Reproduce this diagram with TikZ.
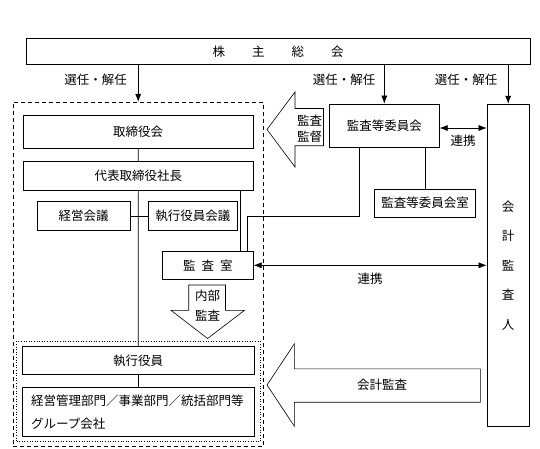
\documentclass[tikz,border=0pt]{standalone}
\usepackage{fontspec}
\setmainfont{Noto Sans CJK JP}
\usetikzlibrary{arrows.meta}
\begin{document}
\begin{tikzpicture}[x=1pt,y=-1pt,
  txt/.style={font=\fontsize{12.5}{15}\selectfont},
  bx/.style={draw, line width=0.6pt, inner sep=0pt, txt},
  ln/.style={line width=0.6pt},
  arr/.style={ln, -{Latex[length=8pt,width=6pt]}},
  darr/.style={ln, {Latex[length=8pt,width=6pt]}-{Latex[length=8pt,width=6pt]}},
  lbl/.style={inner sep=0pt, txt},
  blk/.style={draw, line width=0.6pt, fill=white}]
\useasboundingbox (0,0) rectangle (540,448);
% group frames
\node[draw, dashed, dash pattern=on 4pt off 3pt, line width=0.9pt, minimum width=250.4pt, minimum height=344.5pt, inner sep=0pt] (grp) at (138.2,274.5) {};
\node[draw, dotted, line width=0.6pt, minimum width=243.5pt, minimum height=100.5pt, inner sep=0pt] (exe) at (138.25,391.5) {};
% boxes
\node[bx, minimum width=504pt, minimum height=26pt] (shm) at (278,51.5) {株\hspace{27pt}主\hspace{27pt}総\hspace{27pt}会};
\node[bx, minimum width=229.6pt, minimum height=33pt] (tori) at (138.2,131.9) {取締役会};
\node[bx, minimum width=230pt, minimum height=28.3pt] (daihyo) at (138.3,175.8) {代表取締役社長};
\node[bx, minimum width=92.7pt, minimum height=28.3pt] (keiei) at (83.7,215.8) {経営会議};
\node[bx, minimum width=89pt, minimum height=28.3pt] (skaigi) at (192.8,215.8) {執行役員会議};
\node[bx, minimum width=91pt, minimum height=27.3pt] (ksitsu) at (207.8,265.3) {監\hspace{6pt}査\hspace{6pt}室};
\node[bx, minimum width=110pt, minimum height=43.3pt] (kiin) at (384.3,125.6) {監査等委員会};
\node[bx, minimum width=101.4pt, minimum height=28.3pt] (kiinsitsu) at (425,203.2) {監査等委員会室};
\node[bx, minimum width=42.5pt, minimum height=322.3pt, align=center, font=\fontsize{12.5}{29.5}\selectfont] (kaikei) at (508.2,265.2) {会\\計\\監\\査\\人};
\node[bx, minimum width=231.6pt, minimum height=28.7pt] (syakuin) at (138.2,360.4) {執行役員};
\node[bx, minimum width=231.6pt, minimum height=48.9pt, text width=214pt, align=left, font=\fontsize{12.5}{22.6}\selectfont] (bumon) at (138.2,412.2) {経営管理部門／事業部門／統括部門等\\グループ会社};
% election arrows
\draw[arr] (shm.south -| tori) -- (grp.north -| tori);
\draw[arr] (shm.south -| kiin) -- (kiin.north);
\draw[arr] (shm.south -| kaikei) -- (kaikei.north);
\node[lbl] (l1) at (95.5,80) {選任・解任};
\node[lbl] (l2) at (344,80) {選任・解任};
\node[lbl] (l3) at (466,80) {選任・解任};
% cooperation arrows
\draw[darr] ([yshift=-2.4pt]kiin.east) -- ([yshift=-2.4pt]kiin.east -| kaikei.west);
\node[lbl] (r1) at (463,140.7) {連携};
\draw[darr] (ksitsu.east) -- (ksitsu.east -| kaikei.west);
\node[lbl] (r2) at (370,278.3) {連携};
% internal connectors
\coordinate (kx) at (359,216.7);
\coordinate (sx) at (247.3,216.7);
\coordinate (dx) at (240,0);
\draw[ln] (tori.south) -- (daihyo.north);
\draw[ln] (daihyo.south) -- (syakuin.north);
\draw[ln] (keiei.east) -- (skaigi.west);
\draw[ln] (daihyo.south -| dx) -- (ksitsu.north -| dx);
\draw[ln] (kiin.south -| kx) -- (kx) -- (sx) -- (sx |- ksitsu.north);
\draw[ln] (kiin.south -| kiinsitsu) -- (kiinsitsu.north);
\draw[ln] (syakuin.south) -- (bumon.north);
% block arrows
\draw[blk] (267,129.5) -- (295,92) -- (295,108.5) -- (323.5,108.5) -- (323.5,145.7) -- (295,145.7) -- (295,167) -- cycle;
\node[lbl, align=center, font=\fontsize{12.5}{16}\selectfont] (kk) at (309.5,128.5) {監査\\監督};
\draw[blk] (188.7,285) -- (225.5,285) -- (225.5,310.3) -- (244.5,310.3) -- (207.6,338.5) -- (171,310.3) -- (188.7,310.3) -- cycle;
\node[lbl] (nb1) at (207.6,295.5) {内部};
\node[lbl] (nb2) at (207.6,316) {監査};
\draw[blk] (267,385) -- (294.4,343.7) -- (294.4,368.8) -- (480.4,368.8) -- (480.4,402.2) -- (294.4,402.2) -- (294.4,426.3) -- cycle;
\node[lbl] (kk2) at (382,385) {会計監査};
\end{tikzpicture}
\end{document}
